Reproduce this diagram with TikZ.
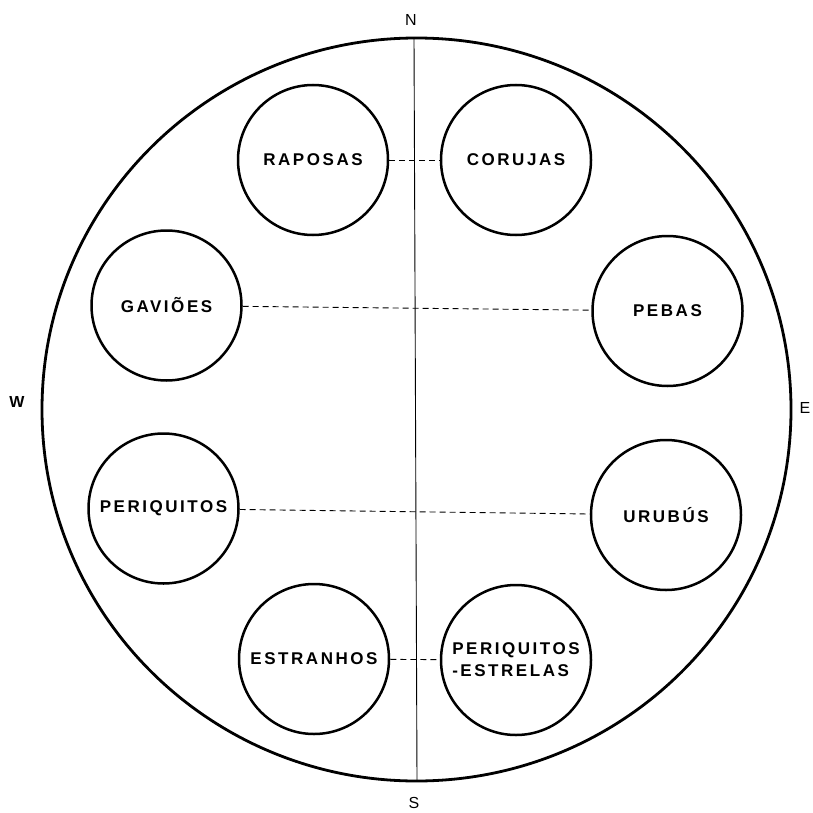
\documentclass[tikz,border=0pt]{standalone}
\usepackage{fontspec}
\setmainfont{Liberation Sans}
\newfontfamily\lblfont{Liberation Sans}[LetterSpace=15]
\usetikzlibrary{shapes.geometric}
\begin{document}
\begin{tikzpicture}[x=1pt,y=-1pt,
  group/.style={draw, circle, line width=2.5pt, minimum size=150pt, inner sep=0pt,
    font=\lblfont\bfseries\fontsize{17}{22}\selectfont, align=left},
  link/.style={line width=0.9pt, dash pattern=on 6pt off 4pt},
  axis/.style={line width=0.9pt},
  card/.style={font=\fontsize{16}{16}\selectfont, inner sep=0pt}]
\useasboundingbox (0,0) rectangle (812,813);
% outer circle
\node[draw, ellipse, line width=2.8pt, minimum width=749pt, minimum height=743pt, inner sep=0pt] (world) at (416.5,409.5) {};
\coordinate (ntop) at (414,38);
\coordinate (sbot) at (417,781);
\draw[axis] (ntop) -- (sbot);
% cardinal points
\node[card] (N) at (411,20) {N};
\node[card] (S) at (414,803) {S};
\node[card, font=\bfseries\fontsize{16}{16}\selectfont] (W) at (17,402) {W};
\node[card] (E) at (805,408) {E};
% groups
\node[group] (raposas) at (313,160) {RAPOSAS};
\node[group] (corujas) at (516,160) {CORUJAS};
\node[group] (gavioes) at (166.5,305.5) {GAVIÕES};
\node[group] (pebas) at (667.5,311) {PEBAS};
\node[group] (periquitos) at (163.5,508.5) {PERIQUITOS};
\node[group] (urubus) at (666,515) {URUBÚS};
\node[group] (estranhos) at (314,659) {ESTRANHOS};
\node[group] (estrelas) at (516,660) {PERIQUITOS\\-ESTRELAS};
% links
\draw[link] (raposas) -- (corujas);
\draw[link] (gavioes) -- (pebas);
\draw[link] (periquitos) -- (urubus);
\draw[link] (estranhos) -- (estrelas);
\end{tikzpicture}
\end{document}
